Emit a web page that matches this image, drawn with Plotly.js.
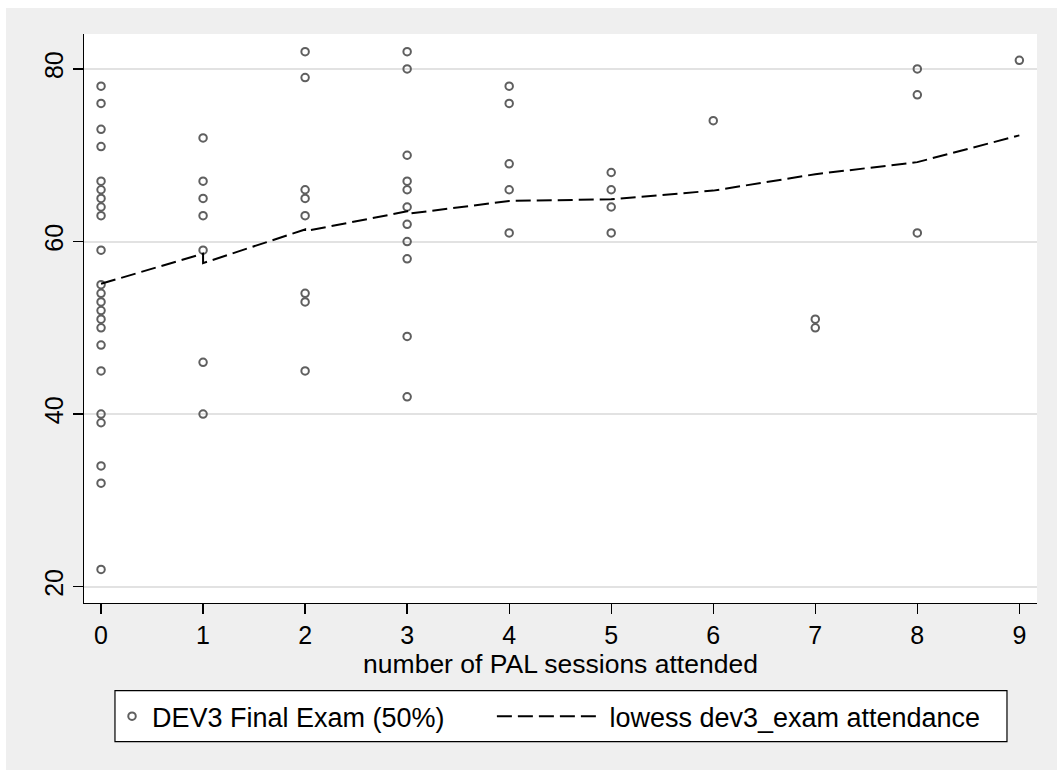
<!DOCTYPE html>
<html>
<head>
<meta charset="utf-8">
<script src="https://cdn.plot.ly/plotly-3.0.1.min.js"></script>
<style>
  html, body { margin: 0; padding: 0; background: #ffffff; }
  #chart { position: absolute; left: 6px; top: 8px; width: 1051px; height: 762px; }
</style>
</head>
<body>
<div id="chart"></div>
<script>
// Final exam scores grouped by number of PAL sessions attended
const sessions = [0, 1, 2, 3, 4, 5, 6, 7, 8, 9];
const scores0 = [78, 76, 73, 71, 67, 66, 65, 64, 63, 59, 55, 54, 53, 52, 51, 50, 48, 45, 40, 39, 34, 32, 22];
const scores1 = [72, 67, 65, 63, 59, 46, 40];
const scores2 = [82, 79, 66, 65, 63, 54, 53, 45];
const scores3 = [82, 80, 70, 67, 66, 64, 62, 60, 58, 49, 42];
const scores4 = [78, 76, 69, 66, 61];
const scores5 = [68, 66, 64, 61];
const scores6 = [74];
const scores7 = [51, 50];
const scores8 = [80, 77, 61];
const scores9 = [81];

// Lowess smooth of exam score on attendance (tied x values give small jogs)
const lowessX = [0, 1, 1, 2, 2, 3, 3, 4, 5, 6, 7, 8, 9];
const lowessY = [55.1, 58.6, 57.5, 61.4, 61.2, 63.5, 63.2, 64.7, 64.9, 65.9, 67.8, 69.2, 72.3];

const yTicks = [20, 40, 60, 80];

const groups = [scores0, scores1, scores2, scores3, scores4, scores5, scores6, scores7, scores8, scores9];
const px = [], py = [];
groups.forEach((g, i) => g.forEach(v => { px.push(sessions[i]); py.push(v); }));

const FONT = '"Liberation Sans", Arial, Helvetica, sans-serif';

const traces = [
  {
    type: 'scatter', mode: 'markers', x: px, y: py,
    name: 'DEV3 Final Exam (50%)',
    legend: 'legend',
    marker: { symbol: 'circle-open', size: 7.5, color: '#5f5f5f', line: { width: 2, color: '#5f5f5f' } },
    hoverinfo: 'x+y'
  },
  {
    type: 'scatter', mode: 'lines', x: lowessX, y: lowessY,
    name: '\u00a0lowess dev3_exam attendance',
    legend: 'legend2',
    line: { color: '#000000', width: 2, dash: '15px,6px' },
    hoverinfo: 'x+y'
  }
];

const layout = {
  width: 1051, height: 762,
  margin: { l: 78, r: 20, t: 26, b: 167, pad: 0 },
  paper_bgcolor: '#efefef',
  plot_bgcolor: '#ffffff',
  font: { family: FONT, size: 25, color: '#000000' },
  showlegend: true,
  xaxis: {
    range: [-0.167, 9.173],
    tickmode: 'array', tickvals: sessions, ticktext: sessions.map(String),
    showgrid: false, zeroline: false,
    showline: true, linecolor: '#000000', linewidth: 1.3,
    ticks: 'outside', ticklen: 10, tickwidth: 1.3, tickcolor: '#000000',
    tickfont: { size: 25 },
    title: { text: 'number of PAL sessions attended', font: { size: 26.5 }, standoff: 6 }
  },
  yaxis: {
    range: [18.11, 84.05],
    tickmode: 'array', tickvals: yTicks, ticktext: yTicks.map(String),
    tickangle: -90,
    showgrid: true, gridcolor: '#e2e2e2', gridwidth: 2,
    zeroline: false,
    showline: true, linecolor: '#000000', linewidth: 1.3,
    ticks: 'outside', ticklen: 10, tickwidth: 1.3, tickcolor: '#000000',
    tickfont: { size: 25 }
  },
  legend: {
    orientation: 'h', x: 0.0294, xanchor: 'left', y: -0.1997, yanchor: 'middle',
    bgcolor: 'rgba(0,0,0,0)', borderwidth: 0,
    font: { size: 27 }, itemwidth: 30
  },
  legend2: {
    orientation: 'h', x: 0.428, xanchor: 'left', y: -0.1997, yanchor: 'middle',
    bgcolor: 'rgba(0,0,0,0)', borderwidth: 0,
    font: { size: 27 }, itemwidth: 100
  },
  shapes: [
    {
      type: 'rect', xref: 'paper', yref: 'paper', layer: 'above',
      x0: 0.0325, x1: 0.9685, y0: -0.2436, y1: -0.1540,
      fillcolor: '#ffffff', line: { color: '#000000', width: 1.2 }
    }
  ]
};

Plotly.newPlot('chart', traces, layout, { displayModeBar: false, staticPlot: true });
</script>
</body>
</html>
